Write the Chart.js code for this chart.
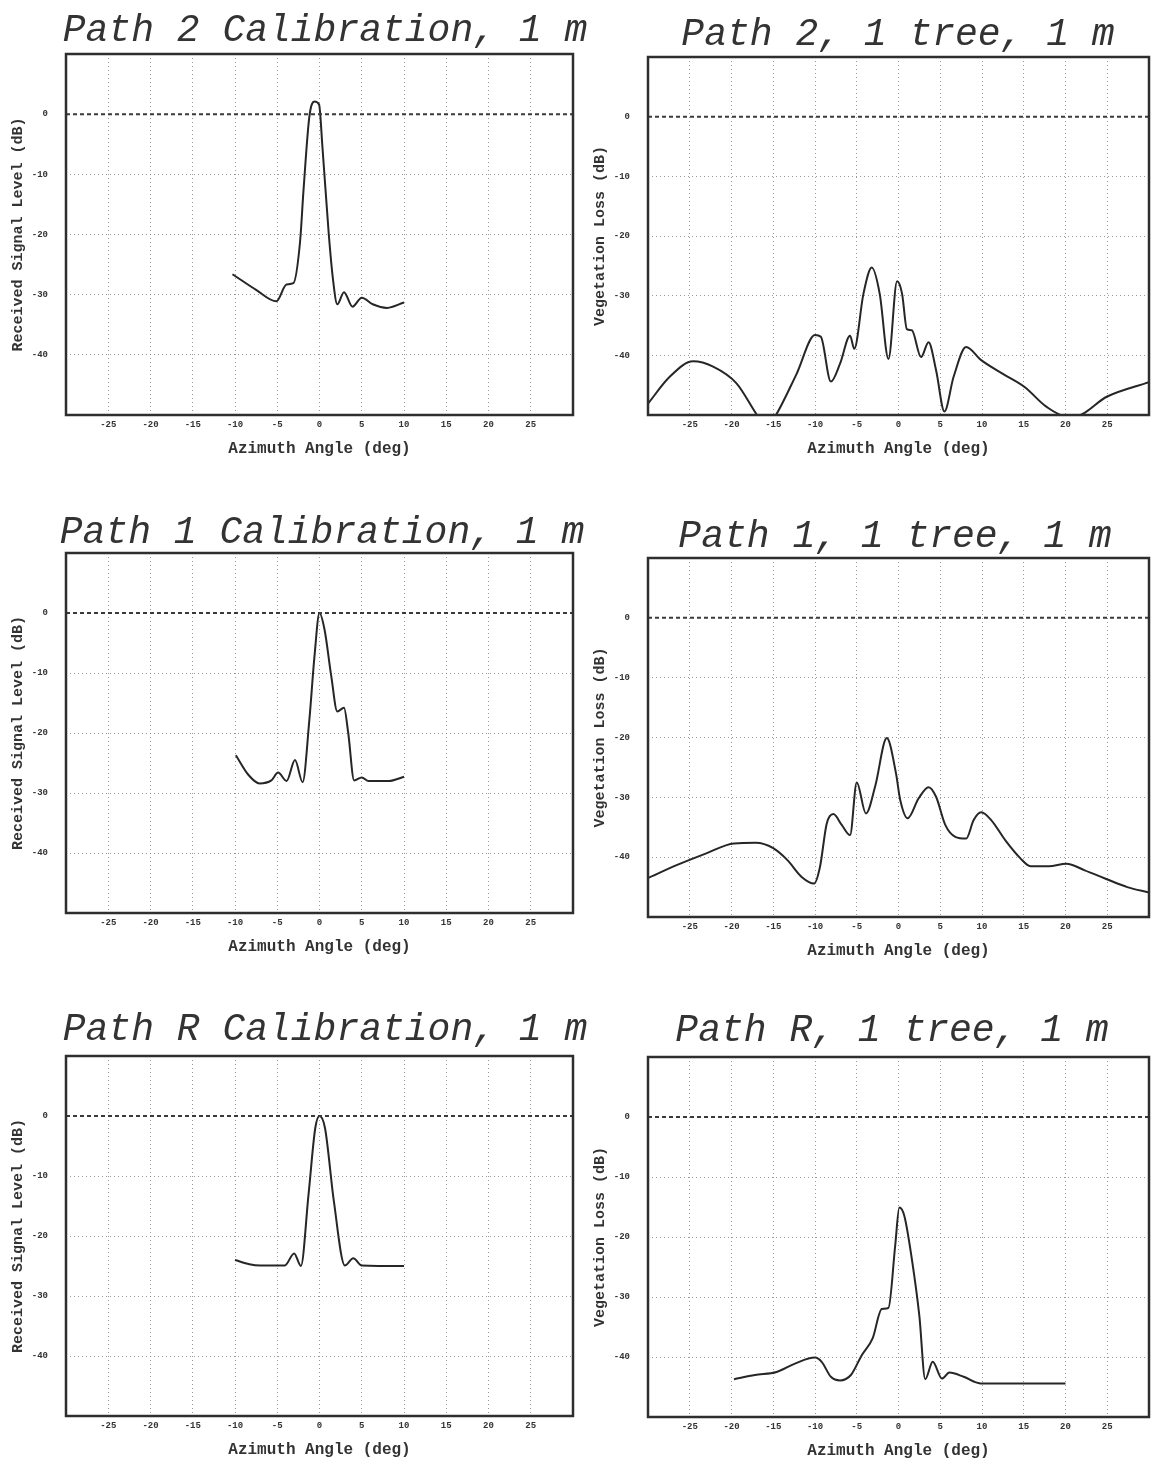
<!DOCTYPE html>
<html>
<head>
<meta charset="utf-8">
<script src="https://cdn.jsdelivr.net/npm/chart.js@4.4.1/dist/chart.umd.min.js"></script>
<style>
  html, body { margin: 0; padding: 0; background: #fff; overflow: hidden; }
  body { width: 1153px; height: 1463px; position: relative; }
  canvas { position: absolute; }
  .title {
    position: absolute;
    width: 640px;
    text-align: center;
    font-family: "Liberation Mono", "DejaVu Sans Mono", monospace;
    font-style: italic;
    font-size: 38px;
    line-height: 40px;
    color: #333;
    white-space: nowrap;
  }
</style>
</head>
<body>
<script>
// Azimuth sweeps, angle in degrees and level in dB

// Path 2 calibration
const path2CalAngle = [-10.3, -7.5, -5.1, -3.9, -3.1, -2.3, -1.9, -1.2, -0.6, -0.05, 0.35, 1.1, 1.6, 2.1, 2.9, 3.9, 5.0, 6.3, 8.0, 10.0];
const path2CalLevel = [-26.6, -29.2, -31.1, -28.3, -28.1, -21.2, -12.8, -0.4, 2.1, 1.6, -5.5, -20, -27.5, -31.6, -29.6, -32, -30.5, -31.6, -32.2, -31.3];

// Path 2, one tree
const path2TreeAngle = [-30, -27.4, -24.6, -22.2, -19.4, -16.8, -15.8, -14.8, -12.2, -10.0, -9.3, -8.1, -7.0, -5.8, -5.3, -4.2, -3.2, -2.25, -1.2, -0.17, 0.43, 1.0, 1.6, 2.7, 3.6, 4.5, 5.5, 6.6, 8.1, 9.9, 12.5, 15.1, 17.7, 20.1, 21.1, 25.0, 30];
const path2TreeLoss = [-48.1, -43.6, -41.0, -41.9, -44.7, -50.3, -52, -50.3, -43.1, -36.6, -36.9, -44.4, -41.4, -36.7, -38.9, -29.7, -25.3, -29.7, -40.6, -27.6, -29.7, -35.6, -35.8, -40.3, -37.8, -42.5, -49.4, -43.6, -38.6, -40.8, -43.1, -45.3, -48.6, -50.2, -50.2, -46.9, -44.5];

// Path 1 calibration
const path1CalAngle = [-9.9, -8.4, -7.1, -5.7, -4.9, -3.9, -2.9, -2.0, -1.2, -0.6, 0, 0.6, 1.4, 2.1, 2.9, 3.4, 4.1, 5.0, 5.8, 8.2, 10.0];
const path1CalLevel = [-23.7, -27.0, -28.4, -27.9, -26.6, -28.0, -24.5, -28.2, -17.8, -7.3, 0, -2.8, -10.6, -16.4, -15.8, -20, -27.9, -27.4, -28.0, -28.0, -27.3];

// Path 1, one tree
const path1TreeAngle = [-30, -26.5, -23.1, -19.7, -17.1, -15.0, -13.3, -11.6, -10.1, -9.4, -8.6, -7.8, -6.8, -5.8, -5.0, -3.9, -2.8, -1.4, -0.3, 0.2, 1.1, 2.4, 3.6, 4.5, 5.6, 6.8, 8.1, 9.0, 9.9, 11.1, 12.8, 14.6, 15.8, 18.0, 20.1, 22.3, 24.8, 27.4, 30];
const path1TreeLoss = [-43.5, -41.3, -39.4, -37.7, -37.6, -38.5, -40.5, -43.3, -44.4, -41.6, -34.4, -32.8, -34.6, -36.3, -27.5, -32.7, -28.2, -20.1, -26.0, -30.4, -33.5, -30.2, -28.3, -29.9, -34.6, -36.6, -36.9, -33.8, -32.5, -33.8, -37.2, -40.2, -41.5, -41.5, -41.1, -42.2, -43.6, -45.0, -45.9];

// Path R calibration
const pathRCalAngle = [-10, -8.3, -7.0, -4.1, -3.0, -2.2, -1.3, -0.5, 0, 0.65, 1.7, 3.0, 4.0, 5.0, 10];
const pathRCalLevel = [-24.0, -24.7, -24.9, -24.9, -22.9, -25.0, -13.1, -2.0, 0, -2.0, -14.2, -24.9, -23.7, -24.9, -25.0];

// Path R, one tree
const pathRTreeAngle = [-19.7, -17.2, -14.6, -12.4, -10.0, -9.2, -8.1, -7.0, -5.7, -4.4, -3.1, -2.0, -1.2, -0.4, 0.1, 0.7, 1.6, 2.5, 3.2, 4.1, 5.2, 6.1, 7.8, 9.8, 14.3, 20.0];
const pathRTreeLoss = [-43.7, -43.0, -42.5, -41.1, -40.1, -40.8, -43.3, -43.9, -43.0, -39.7, -36.9, -32.0, -31.8, -21.5, -15.1, -16.5, -23.7, -33.2, -43.7, -40.8, -43.6, -42.6, -43.3, -44.4, -44.4, -44.4];

// Axis ticks
const angleTicks = [-25, -20, -15, -10, -5, 0, 5, 10, 15, 20, 25];
const levelTicks = [-40, -30, -20, -10, 0];

const MONO = '"Liberation Mono", "DejaVu Sans Mono", monospace';

const panels = [
  { title: 'Path 2 Calibration, 1 m', yTitle: 'Received Signal Level (dB)', x: 0,   top: 48,   w: 590, h: 415, padRight: 17, tx: 325, ty: 11,   angle: path2CalAngle,  value: path2CalLevel },
  { title: 'Path 2, 1 tree, 1 m',     yTitle: 'Vegetation Loss (dB)',       x: 582, top: 51,   w: 571, h: 412, padRight: 1,  tx: 898, ty: 15,   angle: path2TreeAngle, value: path2TreeLoss },
  { title: 'Path 1 Calibration, 1 m', yTitle: 'Received Signal Level (dB)', x: 0,   top: 547,  w: 590, h: 414, padRight: 17, tx: 322, ty: 513,  angle: path1CalAngle,  value: path1CalLevel },
  { title: 'Path 1, 1 tree, 1 m',     yTitle: 'Vegetation Loss (dB)',       x: 582, top: 552,  w: 571, h: 413, padRight: 1,  tx: 895, ty: 517,  angle: path1TreeAngle, value: path1TreeLoss },
  { title: 'Path R Calibration, 1 m', yTitle: 'Received Signal Level (dB)', x: 0,   top: 1050, w: 590, h: 414, padRight: 17, tx: 325, ty: 1010, angle: pathRCalAngle,  value: pathRCalLevel },
  { title: 'Path R, 1 tree, 1 m',     yTitle: 'Vegetation Loss (dB)',       x: 582, top: 1051, w: 571, h: 414, padRight: 1,  tx: 892, ty: 1011, angle: pathRTreeAngle, value: pathRTreeLoss }
];

// heavy rectangle round the plotting area
const framePlugin = {
  id: 'frame',
  afterDatasetsDraw(chart) {
    const { ctx, chartArea: a } = chart;
    ctx.save();
    ctx.strokeStyle = '#2e2e2e';
    ctx.lineWidth = 2.5;
    ctx.strokeRect(a.left, a.top, a.right - a.left, a.bottom - a.top);
    ctx.restore();
  }
};

function gridColor(list) {
  return ctx => (ctx.tick && list.includes(ctx.tick.value)) ? 'rgba(120,120,120,0.75)' : 'rgba(0,0,0,0)';
}

function drawPanel(p) {
  const canvas = document.createElement('canvas');
  canvas.width = p.w;
  canvas.height = p.h;
  canvas.style.left = p.x + 'px';
  canvas.style.top = p.top + 'px';
  document.body.appendChild(canvas);

  const heading = document.createElement('div');
  heading.className = 'title';
  heading.textContent = p.title;
  heading.style.left = (p.tx - 320) + 'px';
  heading.style.top = p.ty + 'px';
  document.body.appendChild(heading);

  const curve = p.angle.map((a, i) => ({ x: a, y: p.value[i] }));
  const zeroLine = [{ x: -30, y: 0 }, { x: 30, y: 0 }];

  new Chart(canvas, {
    type: 'line',
    data: {
      datasets: [
        { data: zeroLine, borderColor: '#3a3a3a', borderWidth: 2, borderDash: [4, 3], pointRadius: 0 },
        { data: curve, borderColor: '#262626', borderWidth: 2, pointRadius: 0, cubicInterpolationMode: 'monotone' }
      ]
    },
    options: {
      responsive: false,
      animation: false,
      events: [],
      layout: { padding: { left: 0, right: p.padRight, top: 6, bottom: 0 } },
      plugins: { legend: { display: false }, tooltip: { enabled: false } },
      scales: {
        x: {
          type: 'linear',
          min: -30,
          max: 30,
          afterFit: s => { s.height = 48; },
          afterBuildTicks: s => { s.ticks = [-30, ...angleTicks, 30].map(v => ({ value: v })); },
          ticks: {
            autoSkip: false,
            maxRotation: 0,
            padding: 4,
            color: '#333',
            font: { family: MONO, size: 9, weight: 'bold' },
            callback: v => angleTicks.includes(v) ? String(v) : ''
          },
          grid: { color: gridColor(angleTicks), lineWidth: 1, drawTicks: false },
          border: { display: false, dash: [1, 3] },
          title: {
            display: true,
            text: 'Azimuth Angle (deg)',
            color: '#333',
            font: { family: MONO, size: 16, weight: 'bold' },
            padding: { top: 0, bottom: 4 }
          }
        },
        y: {
          min: -50,
          max: 10,
          // fixed width, and no extra room above/below for the tick labels
          afterFit: s => { s.width = 66; s.paddingTop = 0; s.paddingBottom = 0; },
          afterBuildTicks: s => { s.ticks = [-50, ...levelTicks, 10].map(v => ({ value: v })); },
          ticks: {
            autoSkip: false,
            padding: 18,
            color: '#333',
            font: { family: MONO, size: 9, weight: 'bold' },
            callback: v => levelTicks.includes(v) ? String(v) : ''
          },
          grid: { color: gridColor([-40, -30, -20, -10]), lineWidth: 1, drawTicks: false },
          border: { display: false, dash: [1, 3] },
          title: {
            display: true,
            text: p.yTitle,
            color: '#333',
            font: { family: MONO, size: 15, weight: 'bold' },
            padding: { top: 9, bottom: 0 }
          }
        }
      }
    },
    plugins: [framePlugin]
  });
}

panels.forEach(drawPanel);
</script>
</body>
</html>
